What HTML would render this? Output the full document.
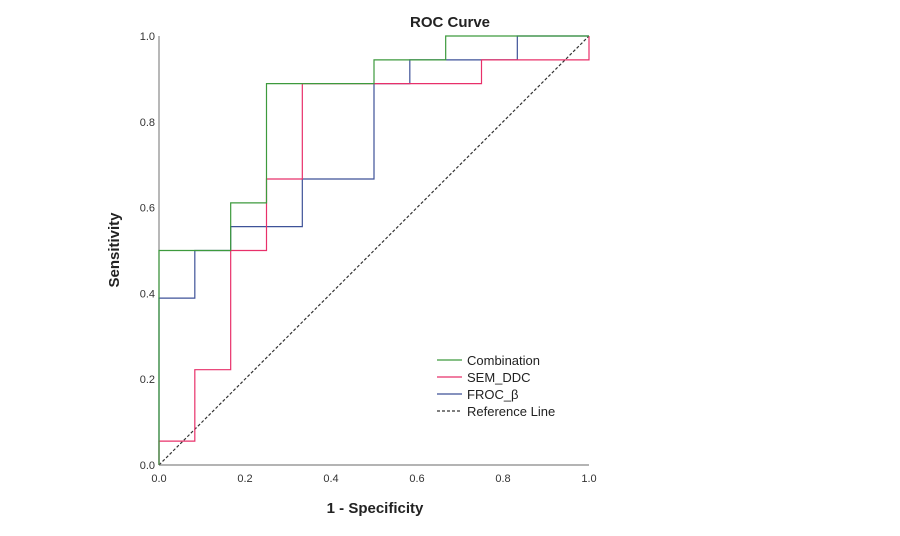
<!DOCTYPE html>
<html><head><meta charset="utf-8"><style>
body{margin:0;background:#fff;}
svg text{font-family:"Liberation Sans","DejaVu Sans",sans-serif;}
</style></head><body>
<svg id="chart" width="900" height="531" viewBox="0 0 900 531" xmlns="http://www.w3.org/2000/svg">
<text x="450" y="27" text-anchor="middle" font-size="15" font-weight="bold" fill="#222">ROC Curve</text>
<text transform="translate(119,250) rotate(-90)" text-anchor="middle" font-size="15" font-weight="bold" fill="#222">Sensitivity</text>
<text x="375" y="513" text-anchor="middle" font-size="15" font-weight="bold" fill="#222">1 - Specificity</text>
<g id="axes"></g>
<g id="series"></g>
<g id="legend"></g>
</svg>
<script>
const xTicks = [0, 0.2, 0.4, 0.6, 0.8, 1.0];
const yTicks = [0, 0.2, 0.4, 0.6, 0.8, 1.0];
const seriesNames = ["Combination", "SEM_DDC", "FROC_β"];
const combX = [0, 0, 0.1667, 0.1667, 0.25, 0.25, 0.5, 0.5, 0.6667, 0.6667, 1];
const combY = [0, 0.5, 0.5, 0.6111, 0.6111, 0.8889, 0.8889, 0.9444, 0.9444, 1, 1];
const semX = [0, 0, 0.0833, 0.0833, 0.1667, 0.1667, 0.25, 0.25, 0.3333, 0.3333, 0.75, 0.75, 1, 1];
const semY = [0, 0.0556, 0.0556, 0.2222, 0.2222, 0.5, 0.5, 0.6667, 0.6667, 0.8889, 0.8889, 0.9444, 0.9444, 1];
const frocX = [0, 0, 0.0833, 0.0833, 0.1667, 0.1667, 0.3333, 0.3333, 0.5, 0.5, 0.5833, 0.5833, 0.8333, 0.8333, 1];
const frocY = [0, 0.3889, 0.3889, 0.5, 0.5, 0.5556, 0.5556, 0.6667, 0.6667, 0.8889, 0.8889, 0.9444, 0.9444, 1, 1];
const refX = [0, 1];
const refY = [0, 1];

const NS = "http://www.w3.org/2000/svg";
const X0 = 159, X1 = 589, Y0 = 465, Y1 = 36;
const sx = v => X0 + v * (X1 - X0);
const sy = v => Y0 - v * (Y0 - Y1);
function mk(tag, attrs, parent) {
  const e = document.createElementNS(NS, tag);
  for (const k in attrs) e.setAttribute(k, attrs[k]);
  parent.appendChild(e);
  return e;
}
const axes = document.getElementById("axes");
const xa = mk("line", {x1: X0, y1: Y0, x2: X1, y2: Y0, stroke: "#888", "stroke-width": 1.2}, axes);


const ya = mk("line", {x1: X0, y1: Y0, x2: X0, y2: Y1, stroke: "#888", "stroke-width": 1.2}, axes);


xTicks.forEach(t => {
  const tx = mk("text", {x: sx(t), y: Y0 + 17, "text-anchor": "middle", "font-size": 11, fill: "#333"}, axes);
  tx.textContent = t.toFixed(1);
  
  
});
yTicks.forEach(t => {
  const tx = mk("text", {x: X0 - 4, y: sy(t) + 4, "text-anchor": "end", "font-size": 11, fill: "#333"}, axes);
  tx.textContent = t.toFixed(1);
  
  
});
const g = document.getElementById("series");
function poly(xs, ys, color, dash) {
  const pts = xs.map((x, i) => sx(x) + "," + sy(ys[i])).join(" ");
  const a = {points: pts, fill: "none", stroke: color, "stroke-width": 1.2};
  if (dash) a["stroke-dasharray"] = dash;
  return mk("polyline", a, g);
}
const rl = poly(refX, refY, "#333", "3,2");


const fl = poly(frocX, frocY, "#3e5298");


const sl = poly(semX, semY, "#e8306a");


const cl = poly(combX, combY, "#3d9a3d");



const lg = document.getElementById("legend");
const legColors = ["#3d9a3d", "#e8306a", "#3e5298", "#333"];
const legNames = seriesNames.concat(["Reference Line"]);
legNames.forEach((n, i) => {
  const y = 360 + i * 17;
  const ln = mk("line", {x1: 437, y1: y, x2: 462, y2: y, stroke: legColors[i], "stroke-width": 1.2}, lg);
  if (i === 3) ln.setAttribute("stroke-dasharray", "3,2");
  
  
  const t = mk("text", {x: 467, y: y + 5, "font-size": 13, fill: "#222"}, lg);
  t.textContent = n;
  
  
});
</script>
</body></html>
